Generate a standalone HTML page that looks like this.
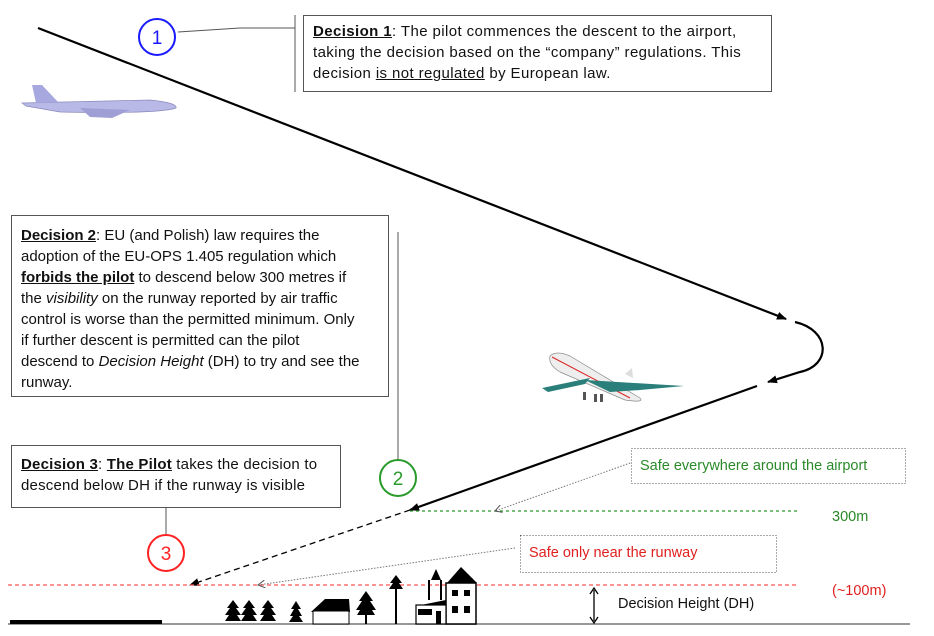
<!DOCTYPE html>
<html><head><meta charset="utf-8"><style>
html,body{margin:0;padding:0;background:#fff;}
body{width:934px;height:636px;overflow:hidden;position:relative;font-family:"Liberation Sans",sans-serif;}
.box{position:absolute;border:1px solid #555;background:#fff;font-size:15px;color:#111;box-sizing:border-box;letter-spacing:0.4px;white-space:nowrap}
.u{text-decoration:underline;}
svg{position:absolute;left:0;top:0;}
</style></head><body>
<svg width="934" height="636" viewBox="0 0 934 636">
<defs>
<marker id="a" markerWidth="10" markerHeight="8" refX="9" refY="4" orient="auto" markerUnits="userSpaceOnUse"><path d="M0,0 L10,4 L0,8 z" fill="#000"/></marker>
<marker id="g" markerWidth="8" markerHeight="8" refX="7" refY="4" orient="auto" markerUnits="userSpaceOnUse"><path d="M0,0 L7,4 L0,8" fill="none" stroke="#555" stroke-width="1"/></marker>
</defs>
<polyline points="178,32 240,28 295,28" fill="none" stroke="#555" stroke-width="1"/>
<line x1="295" y1="15" x2="295" y2="92" stroke="#555"/>
<line x1="398" y1="232" x2="398" y2="460" stroke="#555"/>
<line x1="166" y1="508" x2="166" y2="535" stroke="#555"/>
<line x1="38" y1="28" x2="786" y2="319" stroke="#000" stroke-width="2.2" marker-end="url(#a)"/>
<path d="M795,322 C830,330 832,365 800,372 L768,382" fill="none" stroke="#000" stroke-width="2.2" marker-end="url(#a)"/>
<line x1="757" y1="386" x2="410" y2="510" stroke="#000" stroke-width="2.2" marker-end="url(#a)"/>
<line x1="410" y1="510" x2="190" y2="585" stroke="#000" stroke-width="1.3" stroke-dasharray="6,4" marker-end="url(#a)"/>
<line x1="410" y1="511" x2="800" y2="511" stroke="#2a9a2a" stroke-width="1.3" stroke-dasharray="3,3"/>
<line x1="8" y1="585" x2="796" y2="585" stroke="#f55" stroke-width="1.3" stroke-dasharray="4,3"/>
<line x1="8" y1="624" x2="910" y2="624" stroke="#777" stroke-width="1.5"/>
<line x1="10" y1="622" x2="162" y2="622" stroke="#000" stroke-width="4"/>
<line x1="633" y1="462" x2="495" y2="511" stroke="#777" stroke-dasharray="1.5,1.5" marker-end="url(#g)"/>
<line x1="515" y1="548" x2="258" y2="585" stroke="#777" stroke-dasharray="1.5,1.5" marker-end="url(#g)"/>
<rect x="631.5" y="448.5" width="274" height="35" fill="#fff" stroke="#555" stroke-dasharray="1,2"/>
<rect x="520.5" y="535.5" width="256" height="37" fill="#fff" stroke="#555" stroke-dasharray="1,2"/>
<text x="640" y="470" font-size="14.5" fill="#2a8a2a" font-family="Liberation Sans">Safe everywhere around the airport</text>
<text x="529" y="557" font-size="14.5" fill="#e02020" font-family="Liberation Sans">Safe only near the runway</text>
<text x="832" y="521" font-size="14.5" fill="#2a8a2a" font-family="Liberation Sans">300m</text>
<text x="832" y="595" font-size="14.5" fill="#e02020" font-family="Liberation Sans">(~100m)</text>
<text x="618" y="608" font-size="14.5" fill="#111" font-family="Liberation Sans">Decision Height (DH)</text>
<line x1="594" y1="590" x2="594" y2="621" stroke="#000" stroke-width="1.3"/>
<path d="M590,594 L594,588 L598,594 M590,617 L594,623 L598,617" fill="none" stroke="#000" stroke-width="1.3"/>
<circle cx="157" cy="37" r="18" fill="#fff" stroke="#1a1aff" stroke-width="2"/>
<text x="157" y="44" font-size="19" fill="#1a1aff" text-anchor="middle" font-family="Liberation Sans">1</text>
<circle cx="398" cy="478" r="18" fill="#fff" stroke="#2a9a2a" stroke-width="2"/>
<text x="398" y="485" font-size="19" fill="#2a9a2a" text-anchor="middle" font-family="Liberation Sans">2</text>
<circle cx="166" cy="553" r="18" fill="#fff" stroke="#f22" stroke-width="2"/>
<text x="166" y="560" font-size="19" fill="#f22" text-anchor="middle" font-family="Liberation Sans">3</text>
<g>
<path d="M22,103 L150,100 Q178,103 176,108 Q160,114 60,112 L26,106 Z" fill="#b9b9e8" stroke="#8888bb" stroke-width="0.7"/>
<path d="M32,85 L42,85 L58,102 L36,103 Z" fill="#a8a8e0"/>
<path d="M80,108 L130,110 L112,118 L90,117 Z" fill="#9f9fd6"/>
</g>
<g>
<path d="M550,356 Q556,350 570,356 L640,398 Q645,403 625,400 L560,372 Q548,365 550,356 Z" fill="#eee" stroke="#888" stroke-width="0.7"/>
<path d="M552,357 L630,398" stroke="#d22" stroke-width="1"/>
<path d="M585,380 L684,386 L640,390 L610,392 Z" fill="#2a7f7a"/>
<path d="M542,388 L590,378 L585,384 L548,392 Z" fill="#2a7f7a"/>
<path d="M625,374 L632,368 L633,378 Z" fill="#ddd"/>
<g fill="#555"><rect x="583" y="392" width="3" height="8"/><rect x="594" y="394" width="3" height="8"/><rect x="600" y="394" width="3" height="8"/></g>
</g>
<g fill="#000">
<path d="M233,600 l-6,8 l3,0 l-5,7 l4,0 l-4,6 l16,0 l-4,-6 l4,0 l-5,-7 l3,0 z"/>
<path d="M249,600 l-6,8 l3,0 l-5,7 l4,0 l-4,6 l16,0 l-4,-6 l4,0 l-5,-7 l3,0 z"/>
<path d="M268,600 l-6,8 l3,0 l-5,7 l4,0 l-4,6 l16,0 l-4,-6 l4,0 l-5,-7 l3,0 z"/>
<path d="M296,601 l-5,8 l3,0 l-4,7 l3,0 l-4,6 l14,0 l-4,-6 l3,0 l-4,-7 l3,0 z"/>
<path d="M366,591 l-7,10 l3,0 l-6,9 l4,0 l-3,5 l18,0 l-3,-5 l4,0 l-6,-9 l3,0 z"/>
<rect x="365" y="612" width="2" height="12"/>
<path d="M396,575 l-6,8 l3,0 l-4,6 l14,0 l-4,-6 l3,0 z"/>
<rect x="395" y="586" width="2" height="38"/>
<path d="M311,612 L325,599 L349,599 L350,612 Z"/>
<rect x="313" y="611" width="36" height="13" fill="#fff" stroke="#000"/>
<path d="M431,580 L436,569 L441,580 Z"/><rect x="428" y="580" width="2" height="20"/><rect x="440" y="580" width="2" height="20"/>
<path d="M447,583 L461,567 L477,583 Z"/>
<rect x="446" y="583" width="30" height="41" fill="#fff" stroke="#000" stroke-width="1.5"/>
<rect x="452" y="590" width="6" height="6"/><rect x="464" y="590" width="6" height="6"/>
<rect x="452" y="606" width="6" height="7"/><rect x="464" y="606" width="6" height="7"/>
<path d="M416,606 L446,600 L446,606 Z"/>
<rect x="416" y="605" width="30" height="19" fill="#fff" stroke="#000" stroke-width="1.2"/>
<rect x="418" y="609" width="14" height="6"/><rect x="436" y="611" width="5" height="13"/>
</g>
</svg>
<div class="box" style="left:303px;top:15px;width:469px;height:77px;padding:5px 9px;line-height:21px;"><b class="u">Decision 1</b>: The pilot commences the descent to the airport,<br>taking the decision based on the “company” regulations. This<br>decision <span class="u">is not regulated</span> by European law.</div>
<div class="box" style="left:11px;top:215px;width:378px;height:182px;padding:9px 9px;line-height:21px;letter-spacing:0px;"><b class="u">Decision 2</b>: EU (and Polish) law requires the<br>adoption of the EU-OPS 1.405 regulation which<br><b class="u">forbids the pilot</b> to descend below 300 metres if<br>the <i>visibility</i> on the runway reported by air traffic<br>control is worse than the permitted minimum. Only<br>if further descent is permitted can the pilot<br>descend to <i>Decision Height</i> (DH) to try and see the<br>runway.</div>
<div class="box" style="left:11px;top:445px;width:330px;height:63px;padding:8px 9px;line-height:21px;letter-spacing:0.2px;"><b class="u">Decision 3</b>: <b class="u">The Pilot</b> takes the decision to<br>descend below DH if the runway is visible</div>
</body></html>
